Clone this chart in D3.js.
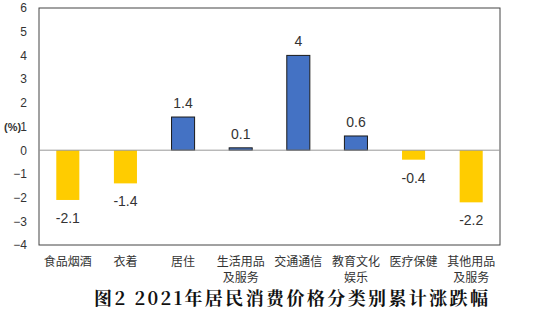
<!DOCTYPE html>
<html><head><meta charset="utf-8">
<script src="https://cdn.jsdelivr.net/npm/d3@7"></script>
<style>body{margin:0;background:#fff}svg{display:block}</style>
</head><body>
<script>
const categories = [["食品烟酒"],["衣着"],["居住"],["生活用品","及服务"],["交通通信"],["教育文化","娱乐"],["医疗保健"],["其他用品","及服务"]];
const values = [-2.1,-1.4,1.4,0.1,4,0.6,-0.4,-2.2];
const valueLabels = ["-2.1","-1.4","1.4","0.1","4","0.6","-0.4","-2.2"];
const yTicks = [6,5,4,3,2,1,0,-1,-2,-3,-4];
const title = "图2 2021年居民消费价格分类别累计涨跌幅";

const W=534,H=323;
const svg=d3.select("body").append("svg").attr("width",W).attr("height",H);
const L=39,R=500,T=8,B=245;
const x=d3.scaleBand().domain(d3.range(categories.length)).range([L,R]).paddingInner(0.6).paddingOuter(0.3);
const y=d3.scaleLinear().domain([-4,6]).range([B,T]);

svg.append("rect").attr("x",L).attr("y",T).attr("width",R-L).attr("height",B-T)
  .attr("fill","none").attr("stroke","#444").attr("stroke-width",1);

const ya=svg.append("g").attr("transform",`translate(${L},0)`)
  .call(d3.axisLeft(y).tickValues(yTicks).tickSize(0).tickPadding(12).tickFormat(d3.format("d")));
ya.select(".domain").remove();
ya.selectAll("text").attr("font-family","Liberation Sans, Arial, sans-serif").attr("font-size",12).attr("fill","#333");

svg.append("text").attr("x",4).attr("y",y(1)+4).text("(%)")
  .attr("font-family","Liberation Sans, Arial, sans-serif").attr("font-size",11).attr("font-weight","bold").attr("fill","#333");

svg.selectAll("rect.bar").data(values).join("rect").attr("class","bar")
  .attr("x",(d,i)=>x(i)).attr("width",x.bandwidth())
  .attr("y",d=>y(Math.max(0,d))).attr("height",d=>Math.abs(y(d)-y(0)))
  .attr("fill",d=>d>=0?"#4472C4":"#FFCC00")
  .attr("stroke",d=>d>=0?"#1a1a1a":"none").attr("stroke-width",1);

svg.append("line").attr("x1",L).attr("x2",R).attr("y1",y(0)).attr("y2",y(0)).attr("stroke","#999").attr("stroke-width",1);

svg.selectAll("text.val").data(values).join("text").attr("class","val")
  .attr("x",(d,i)=>x(i)+x.bandwidth()/2)
  .attr("y",d=>d>=0?y(d)-9:y(d)+23)
  .attr("text-anchor","middle").attr("font-family","Liberation Sans, Arial, sans-serif")
  .attr("font-size",14).attr("fill","#333").text((d,i)=>valueLabels[i]);

const cg=svg.selectAll("g.cat").data(categories).join("g").attr("class","cat");
cg.each(function(c,i){
  const g=d3.select(this);
  c.forEach((s,j)=>{
    g.append("text").attr("x",x(i)+x.bandwidth()/2).attr("y",266+j*16)
      .attr("text-anchor","middle").attr("font-family","Noto Sans CJK SC, sans-serif")
      .attr("font-size",12).attr("fill","#333").text(s);
  });
});

svg.append("text").attr("x",94).attr("y",305).attr("textLength",394).attr("lengthAdjust","spacing")
  .attr("font-family","Noto Serif CJK SC, Noto Sans CJK SC, serif").attr("font-weight","bold")
  .attr("font-size",18).attr("fill","#111").text(title);
</script>
</body></html>
